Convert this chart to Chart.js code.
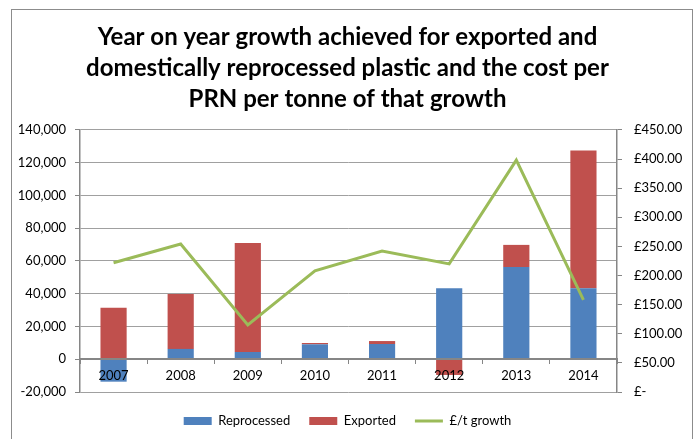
<!DOCTYPE html>
<html>
<head>
<meta charset="utf-8">
<script src="https://cdn.jsdelivr.net/npm/chart.js@4/dist/chart.umd.min.js"></script>
<style>
  html, body { margin: 0; padding: 0; background: #fff; overflow: hidden; }
  #wrap { position: absolute; left: 0; top: 0; width: 695px; height: 439px; }
  #frame { position: absolute; left: 11px; top: 9px; width: 680px; height: 440px;
           border: 1px solid #8c8c8c; pointer-events: none; }
</style>
</head>
<body>
<div id="wrap">
  <canvas id="growthChart" width="695" height="439"></canvas>
  <div id="frame"></div>
</div>
<script>
//############################
//######    Data     ########
//############################

const years = ["2007", "2008", "2009", "2010", "2011", "2012", "2013", "2014"];

// tonnes of growth on the year before
const reprocessed = [-13700, 6300, 4400, 9100, 9300, 43300, 56300, 43300];
const exported = [31500, 33500, 66600, 800, 1800, -9600, 13500, 84100];

// PRN cost per tonne of that growth
const costPerTonne = [222, 254, 115, 208, 242, 220, 398, 158];

const titleLines = [
  "Year on year growth achieved for exported and",
  "domestically reprocessed plastic and the cost per",
  "PRN per tonne of that growth"
];

const fontName = "Lato, 'Open Sans', sans-serif";
const axisGrey = "#868686";

//############################
//######## The chart  ########
//############################

const dataGrowth = {
  labels: years,
  datasets: [
    {
      type: "bar",
      label: "Reprocessed",
      data: reprocessed,
      backgroundColor: "#4f81bd",
      borderWidth: 0,
      stack: "tonnes",
      yAxisID: "y",
      order: 1,
      pointStyle: "rect",
      barPercentage: 0.39,
      categoryPercentage: 1
    },
    {
      type: "bar",
      label: "Exported",
      data: exported,
      backgroundColor: "#c0504d",
      borderWidth: 0,
      stack: "tonnes",
      yAxisID: "y",
      order: 1,
      pointStyle: "rect",
      barPercentage: 0.39,
      categoryPercentage: 1
    },
    {
      type: "line",
      label: "£/t growth",
      data: costPerTonne,
      borderColor: "#9bbb59",
      backgroundColor: "#9bbb59",
      borderWidth: 3,
      pointRadius: 0,
      pointStyle: "line",
      tension: 0,
      yAxisID: "y1",
      order: 0
    }
  ]
};

const configGrowth = {
  type: "bar",
  data: dataGrowth,
  options: {
    responsive: false,
    animation: false,
    layout: { padding: { left: 0, right: 0, top: 0, bottom: 1.5 } },
    plugins: {
      title: {
        display: true,
        text: titleLines,
        color: "#000",
        font: { family: fontName, size: 24, weight: "bold", lineHeight: 1.29 },
        padding: { top: 21.5, bottom: 15.5 }
      },
      legend: {
        position: "bottom",
        // empty title only used as a spacer above the legend row
        title: {
          display: true,
          text: "",
          font: { size: 1, lineHeight: 1 },
          padding: { top: 0, bottom: 2.5 }
        },
        labels: {
          color: "#000",
          font: { family: fontName, size: 13 },
          usePointStyle: true,
          pointStyleWidth: 28,
          boxHeight: 8,
          padding: 19,
          // keep the legend in dataset order, not draw order
          sort: function (a, b) { return a.datasetIndex - b.datasetIndex; }
        }
      },
      tooltip: { enabled: false }
    },
    scales: {
      x: {
        position: { y: 0 },
        grid: {
          drawOnChartArea: false,
          offset: true,
          tickLength: 4,
          tickColor: axisGrey
        },
        border: { color: axisGrey, width: 2, z: 1 },
        ticks: {
          z: 1,
          color: "#000",
          font: { family: fontName, size: 13 },
          padding: 5,
          maxRotation: 0
        }
      },
      y: {
        position: "left",
        stacked: true,
        min: -20000,
        max: 140000,
        afterFit: function (scale) { scale.width = 80; },
        grid: { color: "#a0a0a0", tickColor: axisGrey, tickLength: 5 },
        border: { color: axisGrey, width: 1.5 },
        ticks: {
          stepSize: 20000,
          color: "#000",
          font: { family: fontName, size: 13 },
          padding: 9,
          callback: function (v) { return v.toLocaleString("en-US"); }
        }
      },
      y1: {
        position: "right",
        min: 0,
        max: 450,
        afterFit: function (scale) { scale.width = 78; },
        grid: { drawOnChartArea: false, tickColor: axisGrey, tickLength: 5 },
        border: { color: axisGrey, width: 1.5 },
        ticks: {
          stepSize: 50,
          color: "#000",
          font: { family: fontName, size: 13 },
          padding: 12,
          callback: function (v) { return v === 0 ? "£-" : "£" + v.toFixed(2); }
        }
      }
    }
  }
};

const myGrowthChart = new Chart(document.getElementById("growthChart"), configGrowth);
</script>
</body>
</html>
